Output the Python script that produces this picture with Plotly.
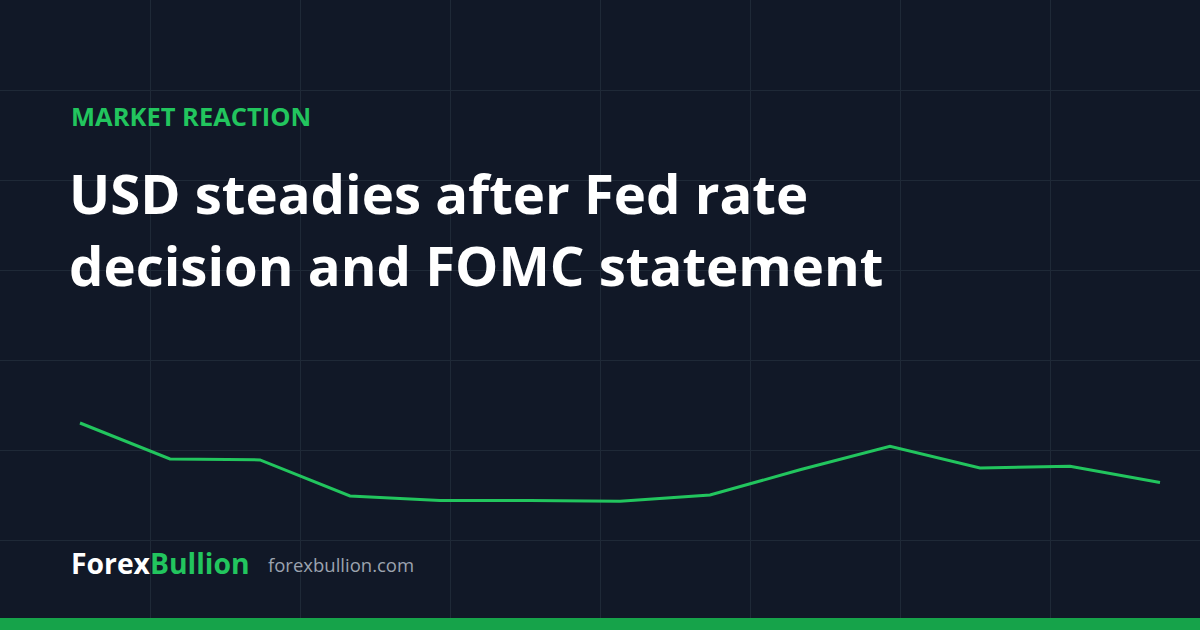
import plotly.graph_objects as go

# USD move after the Fed decision (index steps, arbitrary chart units)
steps = list(range(13))
usd_level = [2.30, 1.90, 1.89, 1.49, 1.44, 1.44, 1.43, 1.50, 1.78, 2.04, 1.80, 1.82, 1.64]

kicker = "MARKET REACTION"
headline_1 = "USD steadies after Fed rate"
headline_2 = "decision and FOMC statement"
brand_a = "Forex"
brand_b = "Bullion"
site = "forexbullion.com"

BG = "#111827"
GRID = "#1f2937"
GREEN = "#22c55e"
BAR = "#16a34a"
W, H = 1200, 630

fig = go.Figure()
fig.add_trace(go.Scatter(x=steps, y=usd_level, mode="lines",
                         line=dict(color=GREEN, width=3), hoverinfo="skip"))

# 90 px per step, first point 80 px from the left edge
x0 = -80 / 90
x1 = (W - 80) / 90

fig.update_layout(
    width=W, height=H,
    margin=dict(l=0, r=0, t=0, b=0),
    paper_bgcolor=BG, plot_bgcolor=BG,
    showlegend=False,
    xaxis=dict(range=[x0, x1], tick0=x0, dtick=150 / 90, showgrid=True,
               gridcolor=GRID, gridwidth=1, zeroline=False,
               showticklabels=False, ticks="", fixedrange=True),
    yaxis=dict(range=[0, 7], tick0=0, dtick=1, showgrid=True,
               gridcolor=GRID, gridwidth=1, zeroline=False,
               showticklabels=False, ticks="", fixedrange=True),
    font=dict(family="Open Sans, sans-serif"),
)

def px(xp, yp):
    return xp / W, 1 - yp / H

ann = []
x, y = px(69, 116)
ann.append(dict(text=kicker, x=x, y=y, xanchor="left", yanchor="middle",
                font=dict(size=25.5, color=GREEN, family="Open Sans", weight="bold")))
x, y = px(67, 193)
ann.append(dict(text=headline_1, x=x, y=y, xanchor="left", yanchor="middle",
                font=dict(size=54.5, color="#ffffff", family="Open Sans", weight="bold")))
x, y = px(67, 265)
ann.append(dict(text=headline_2, x=x, y=y, xanchor="left", yanchor="middle",
                font=dict(size=54.5, color="#ffffff", family="Open Sans", weight="bold")))
x, y = px(69, 563)
ann.append(dict(text=f"{brand_a}<span style='color:{GREEN}'>{brand_b}</span>",
                x=x, y=y, xanchor="left", yanchor="middle",
                font=dict(size=28.3, color="#ffffff", family="Open Sans", weight="bold")))
x, y = px(266, 564)
ann.append(dict(text=site, x=x, y=y, xanchor="left", yanchor="middle",
                font=dict(size=18.5, color="#9ca3af", family="Open Sans")))
for a in ann:
    a.update(xref="paper", yref="paper", showarrow=False)
fig.update_layout(annotations=ann)

# green strip along the bottom
fig.add_shape(type="rect", xref="paper", yref="paper", x0=0, x1=1,
              y0=0, y1=12 / H, fillcolor=BAR, line=dict(width=0), layer="above")

fig.write_html("out.html", config={"displayModeBar": False},
               post_script="document.body.style.margin='0';"
                           "document.body.style.background='%s';" % BG)
